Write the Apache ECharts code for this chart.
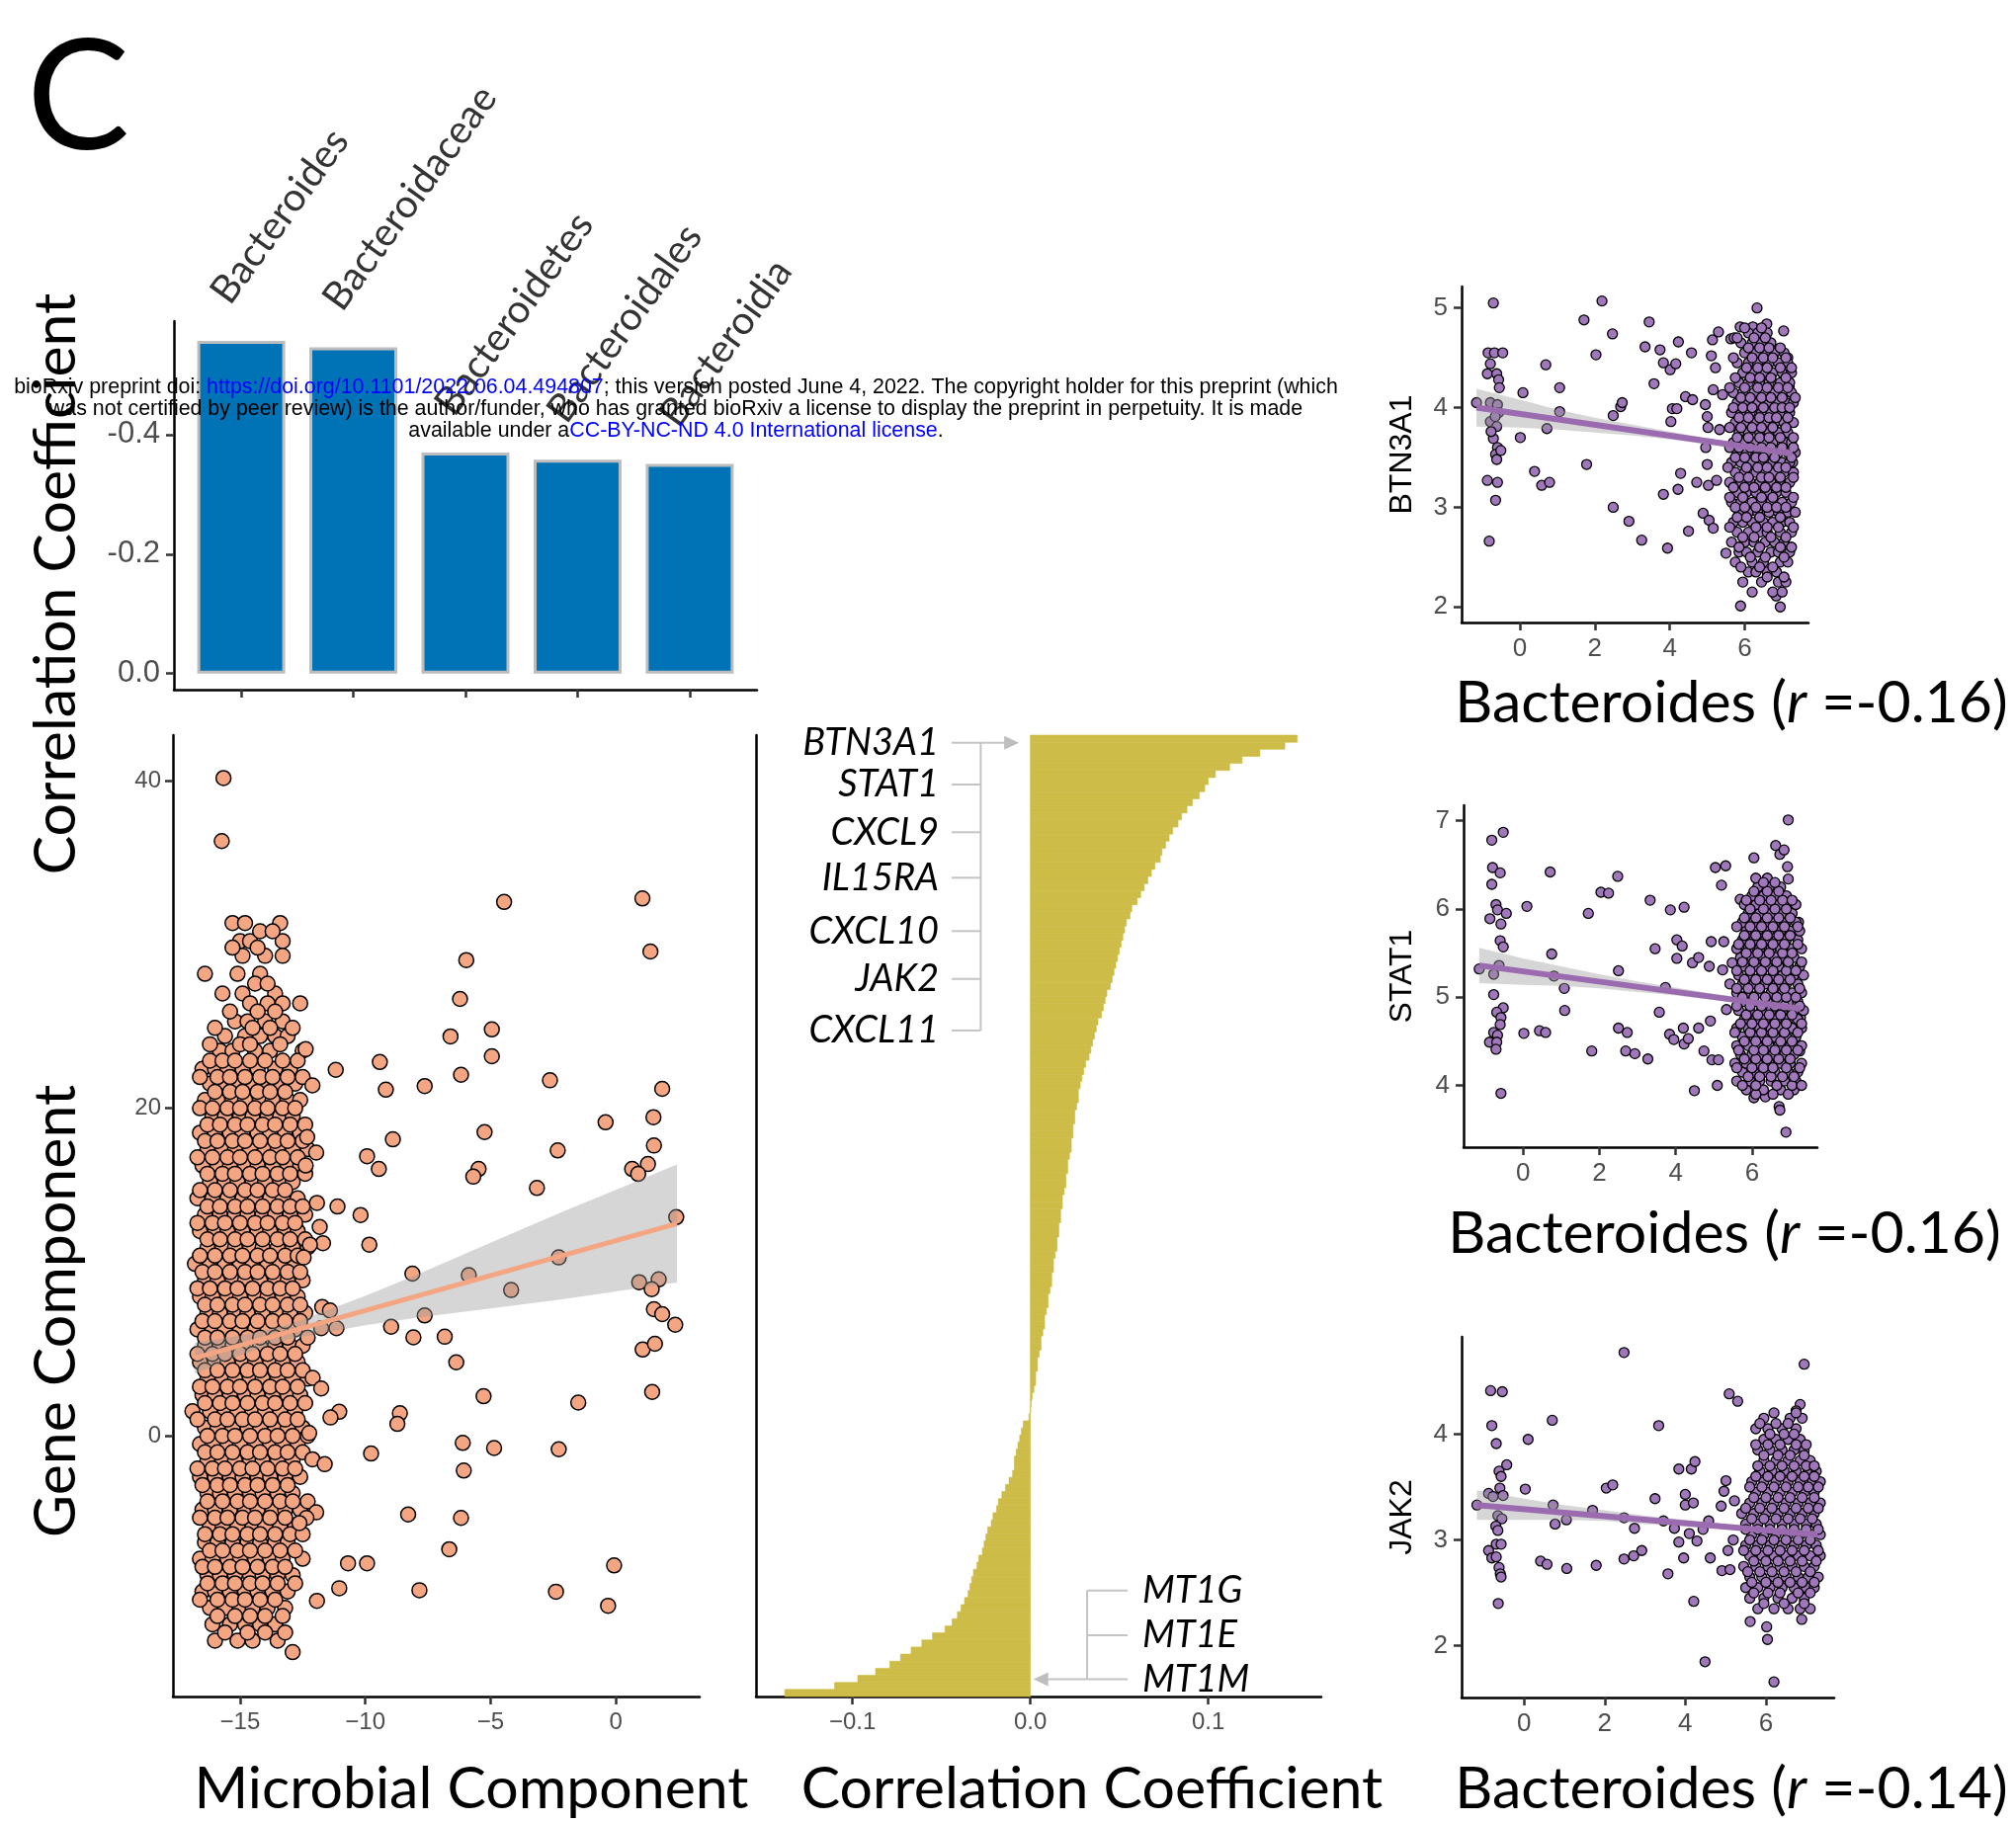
<!DOCTYPE html>
<html><head><meta charset="utf-8">
<script src="https://cdn.jsdelivr.net/npm/echarts@6/dist/echarts.min.js"></script>
<style>html,body{margin:0;padding:0;background:#fff}#chart{width:2040px;height:1845px}</style>
</head><body><div id="chart"></div>
<script>
// ---------------- data ----------------
// Top-left bar chart: correlation of each taxon with the gene component
const taxa = ['Bacteroides', 'Bacteroidaceae', 'Bacteroidetes', 'Bacteroidales', 'Bacteroidia'];
const taxaCorr = [-0.557, -0.546, -0.370, -0.358, -0.351];
const taxaTicks = [-0.4, -0.2, 0];

// Main scatter: microbial component (x) vs gene component (y)
// dense column of samples, written as rows: [y, x1, x2, ...]
const mainDenseRows = [
 [31.3,-15.3,-14.8,-13.4],[30.2,-15.0,-14.6,-13.3],[29.3,-14.9,-14.0,-13.3],[28.2,-16.4,-14.2,-15.1],
 [27.0,-15.7,-14.9,-13.6],[26.4,-14.6,-13.9,-13.3,-12.6],[25.3,-15.2,-14.7,-14.0,-13.3],
 [24.4,-15.6,-14.8,-14.2,-13.6,-13.1],[23.5,-15.8,-15.3,-14.4,-13.8,-12.5],
 [22.4,-16.5,-16.0,-15.5,-14.9,-14.3,-13.6,-13.0],[21.5,-16.2,-15.6,-15.1,-14.6,-14.0,-13.4,-12.8],
 [20.5,-16.4,-15.9,-15.3,-14.8,-14.2,-13.7,-13.1,-12.6],[19.5,-16.1,-15.6,-15.0,-14.5,-13.9,-13.4,-12.9],
 [18.5,-16.6,-16.0,-15.4,-14.9,-14.3,-13.8,-13.2,-12.6],[17.5,-16.3,-15.7,-15.2,-14.6,-14.0,-13.5,-12.9,-12.3],
 [16.5,-16.5,-15.9,-15.4,-14.8,-14.3,-13.7,-13.1,-12.6],[15.5,-16.2,-15.6,-15.1,-14.5,-14.0,-13.4,-12.9],
 [14.5,-16.7,-16.1,-15.5,-14.9,-14.4,-13.8,-13.3,-12.7],[13.5,-16.4,-15.8,-15.2,-14.7,-14.1,-13.6,-13.0,-12.4],
 [12.5,-16.6,-16.0,-15.5,-14.9,-14.3,-13.8,-13.2,-12.7],[11.5,-16.3,-15.7,-15.2,-14.6,-14.1,-13.5,-12.9,-12.3],
 [10.5,-16.8,-16.2,-15.6,-15.0,-14.5,-13.9,-13.4,-12.8],[9.5,-16.4,-15.9,-15.3,-14.8,-14.2,-13.6,-13.1,-12.5],
 [8.5,-16.6,-16.1,-15.5,-15.0,-14.4,-13.9,-13.3,-12.7],[7.5,-16.3,-15.8,-15.2,-14.7,-14.1,-13.5,-13.0,-12.4],
 [6.5,-16.7,-16.1,-15.6,-15.0,-14.4,-13.9,-13.3,-12.8],[5.5,-16.4,-15.8,-15.3,-14.7,-14.2,-13.6,-13.0,-12.5],
 [4.5,-16.6,-16.0,-15.5,-14.9,-14.4,-13.8,-13.3,-12.7],[3.5,-16.3,-15.7,-15.2,-14.6,-14.1,-13.5,-12.9,-12.3],
 [2.5,-16.5,-16.0,-15.4,-14.8,-14.3,-13.7,-13.1,-12.6],[1.5,-16.9,-16.2,-15.6,-15.1,-14.5,-14.0,-13.4,-12.8],
 [0.5,-16.4,-15.9,-15.3,-14.7,-14.2,-13.6,-13.1,-12.5],[-0.5,-16.6,-16.1,-15.5,-15.0,-14.4,-13.8,-13.3,-12.7],
 [-1.5,-16.3,-15.7,-15.2,-14.6,-14.1,-13.5,-12.9],[-2.5,-16.6,-16.0,-15.4,-14.9,-14.3,-13.8,-13.2,-12.6],
 [-3.5,-16.3,-15.8,-15.2,-14.6,-14.1,-13.5,-12.9],[-4.5,-16.5,-16.0,-15.4,-14.8,-14.3,-13.7,-13.2,-12.6],
 [-5.5,-16.2,-15.7,-15.1,-14.5,-14.0,-13.4,-12.8],[-6.5,-16.4,-15.9,-15.3,-14.7,-14.2,-13.6,-13.1],
 [-7.5,-16.6,-16.1,-15.5,-15.0,-14.4,-13.8,-13.3,-12.5],[-8.5,-16.3,-15.8,-15.2,-14.6,-14.1,-13.5,-12.9],
 [-9.5,-16.5,-16.0,-15.4,-14.8,-14.3,-13.7,-13.1],[-10.5,-16.2,-15.6,-15.0,-14.5,-13.9,-13.2],
 [-11.5,-16.1,-15.4,-14.8,-14.2,-13.6],[-12.5,-16.0,-15.1,-14.5,-13.5],[-13.2,-12.9]
];
const mainDenseRows2 = [
 [30.8,-14.2,-13.7],[29.8,-15.3,-14.3],[27.6,-14.4,-13.9],[25.9,-15.4,-14.3,-13.6],
 [24.9,-16.0,-14.5,-13.8,-12.9],[23.9,-16.2,-15.0,-14.6,-13.4],
 [22.9,-16.2,-15.7,-15.2,-14.6,-14.0,-13.3,-12.7],[21.9,-16.6,-15.9,-15.4,-14.8,-14.2,-13.7,-13.1,-12.5],
 [21.0,-16.0,-15.4,-14.9,-14.3,-13.8,-13.2],[20.0,-16.6,-16.1,-15.5,-15.0,-14.4,-13.9,-13.3,-12.8],
 [19.0,-16.3,-15.8,-15.2,-14.7,-14.1,-13.6,-13.0,-12.4],[18.0,-16.4,-15.9,-15.3,-14.8,-14.2,-13.6,-13.1,-12.5],
 [17.0,-16.7,-16.1,-15.5,-15.0,-14.4,-13.8,-13.3,-12.7],[16.0,-16.3,-15.7,-15.2,-14.6,-14.1,-13.5,-13.0,-12.4],
 [15.0,-16.6,-16.0,-15.4,-14.8,-14.3,-13.7,-13.2],[14.0,-16.3,-15.8,-15.2,-14.7,-14.1,-13.5,-13.0,-12.5],
 [13.0,-16.7,-16.1,-15.6,-15.0,-14.4,-13.9,-13.3,-12.8],[12.0,-16.3,-15.8,-15.2,-14.7,-14.1,-13.5,-13.0,-12.4],
 [11.0,-16.6,-16.0,-15.4,-14.9,-14.3,-13.8,-13.2,-12.7],[10.0,-16.5,-16.0,-15.4,-14.8,-14.3,-13.7,-13.1,-12.6],
 [9.0,-16.7,-16.2,-15.6,-15.1,-14.5,-13.9,-13.4,-12.9],[8.0,-16.4,-15.9,-15.3,-14.8,-14.2,-13.7,-13.1,-12.6],
 [7.0,-16.5,-16.0,-15.4,-14.9,-14.3,-13.7,-13.2,-12.6],[6.0,-16.4,-15.9,-15.3,-14.7,-14.2,-13.6,-13.1,-12.3],
 [5.0,-16.7,-16.1,-15.6,-15.0,-14.5,-13.9,-13.4,-12.8],[4.0,-16.4,-15.9,-15.3,-14.7,-14.2,-13.6,-13.1,-12.5],
 [3.0,-16.6,-16.1,-15.5,-15.0,-14.4,-13.8,-13.3,-12.7],[2.0,-16.4,-15.8,-15.3,-14.7,-14.1,-13.6,-13.0,-12.4],
 [1.0,-16.7,-16.0,-15.5,-14.9,-14.4,-13.8,-13.2,-12.7],[0.0,-16.3,-15.7,-15.2,-14.6,-14.0,-13.5,-12.9,-12.3],
 [-1.0,-16.4,-15.9,-15.3,-14.7,-14.2,-13.6,-13.1,-12.5],[-2.0,-16.7,-16.1,-15.6,-15.0,-14.5,-13.9,-13.3,-12.8],
 [-3.0,-16.5,-15.9,-15.4,-14.8,-14.3,-13.7,-13.1],[-4.0,-16.3,-15.7,-15.1,-14.6,-14.0,-13.4,-12.9,-12.3],
 [-5.0,-16.6,-16.0,-15.5,-14.9,-14.4,-13.8,-13.2],[-6.0,-16.4,-15.8,-15.3,-14.7,-14.2,-13.6,-13.0,-12.5],
 [-7.0,-16.2,-15.7,-15.1,-14.6,-14.0,-13.4,-12.8],[-8.0,-16.5,-16.0,-15.4,-14.9,-14.3,-13.7,-13.2],
 [-9.0,-16.3,-15.7,-15.2,-14.6,-14.1,-13.5,-12.8],[-10.0,-16.6,-15.9,-15.3,-14.8,-14.2,-13.6],
 [-11.0,-15.9,-15.2,-14.6,-14.0,-13.3],[-12.0,-15.6,-14.7,-14.0,-13.2]
];
const mainSparsePts = [
 [-15.66,40.15],[-15.73,36.3],
 [-4.46,32.59],[1.06,32.8],[1.38,29.56],[-5.97,29.04],[-6.22,26.67],[-6.6,24.38],[-4.95,24.81],[-4.95,23.17],
 [-6.18,22.04],[-2.63,21.7],[1.85,21.18],[-9.42,22.82],[-9.18,21.13],[-7.63,21.35],[-11.18,22.34],[-0.41,19.14],
 [1.5,19.45],[1.52,17.72],[-5.24,18.54],[-2.32,17.42],[-8.9,18.1],[-9.93,17.07],[-9.46,16.29],[-5.48,16.29],
 [-5.69,15.82],[1.28,16.59],[0.65,16.29],[0.89,15.99],[-3.15,15.13],[-11.11,14.0],[-10.19,13.48],[-9.84,11.67],
 [2.41,13.35],[-2.28,10.89],[-8.12,9.9],[-5.87,9.81],[-4.18,8.9],[0.93,9.38],[1.71,9.55],[1.43,8.95],[1.52,7.73],
 [1.85,7.43],[2.37,6.78],[-7.63,7.35],[-8.97,6.66],[-8.08,6.01],[-6.83,6.05],[-6.37,4.49],[1.07,5.27],[1.56,5.62],
 [1.45,2.68],[-5.28,2.42],[-1.5,2.03],[-8.62,1.38],[-8.72,0.73],[-11.04,1.47],[-11.39,1.12],[-9.77,-1.08],
 [-6.11,-0.43],[-4.86,-0.74],[-6.07,-2.12],[-2.28,-0.82],[-8.29,-4.8],[-6.18,-5.01],[-6.65,-6.92],[-10.69,-7.78],
 [-9.93,-7.78],[-0.07,-7.91],[-11.04,-9.3],[-7.84,-9.42],[-2.39,-9.51],[-0.31,-10.37],[-11.93,-10.07],
 [-12.11,21.39],[-12.38,23.6],[-12.32,18.24],[-11.96,17.29],[-12.38,16.5],[-11.93,14.22],[-11.82,12.75],
 [-11.69,11.76],[-12.21,11.67],[-12.46,10.89],[-11.72,7.86],[-11.76,6.57],[-11.41,7.65],[-11.15,6.57],
 [-12.1,3.54],[-11.76,2.89],[-12.24,0.17],[-12.11,-1.43],[-11.62,-1.73],[-11.96,-4.67],[-12.35,-5.01],[-12.63,-5.32]
];
const mainFit = [[-16.8, 4.75], [2.44, 12.96]];
const mainBand = [[-16.8,3.80,5.70],[-15,4.92,6.12],[-13,5.92,6.82],[-10,6.75,8.55],[-8,7.2,9.8],
 [-5,7.78,11.78],[-2,8.36,13.76],[0,8.82,15.02],[2.44,9.36,16.56]];
const mainXTicks = [-15, -10, -5, 0];
const mainYTicks = [0, 20, 40];

// Gene correlation with the microbial component, sorted ascending (bottom to top)
const geneCorr = [
 -0.138,-0.110,-0.097,-0.087,-0.079,-0.073,-0.067,-0.061,-0.055,-0.048,
 -0.044,-0.041,-0.039,-0.037,-0.035,-0.034,-0.033,-0.032,-0.030,-0.029,
 -0.027,-0.026,-0.025,-0.024,-0.022,-0.021,-0.019,-0.018,-0.016,-0.014,
 -0.012,-0.010,-0.009,-0.009,-0.008,-0.007,-0.006,-0.005,-0.004,-0.0008,
 0.0002,0.0005,0.001,0.002,0.003,0.003,0.004,0.004,0.005,0.006,
 0.006,0.007,0.008,0.008,0.009,0.010,0.010,0.011,0.012,0.012,
 0.013,0.013,0.014,0.015,0.015,0.016,0.016,0.017,0.017,0.018,
 0.018,0.019,0.020,0.020,0.021,0.021,0.022,0.023,0.023,0.024,
 0.024,0.025,0.025,0.026,0.027,0.027,0.028,0.029,0.030,0.031,
 0.033,0.034,0.035,0.036,0.037,0.038,0.040,0.041,0.042,0.043,
 0.045,0.046,0.047,0.048,0.049,0.050,0.051,0.052,0.053,0.054,
 0.056,0.057,0.060,0.062,0.064,0.066,0.068,0.070,0.073,0.074,
 0.076,0.078,0.080,0.083,0.085,0.088,0.091,0.095,0.098,0.100,
 0.104,0.112,0.119,0.129,0.143,0.150
];
const geneTicks = [-0.1, 0, 0.1];
const topGenes = ['BTN3A1', 'STAT1', 'CXCL9', 'IL15RA', 'CXCL10', 'JAK2', 'CXCL11'];
const bottomGenes = ['MT1G', 'MT1E', 'MT1M'];

// Small scatter panels: Bacteroides abundance (x) vs gene expression (y)
const btn3a1Pts = [
 [-1.16,4.05],[-0.71,5.05],[-0.85,4.55],[-0.68,4.55],[-0.46,4.55],[-0.79,4.44],[-0.87,4.34],[-0.62,4.34],[-0.57,4.28],
 [-0.55,4.2],[-0.79,4.05],[-0.6,4.03],[-0.57,3.95],[-0.79,3.86],[-0.62,3.81],[-0.71,3.69],[-0.6,3.6],[-0.65,3.53],
 [-0.62,3.48],[-0.87,3.27],[-0.6,3.25],[-0.65,3.07],[-0.82,2.66],[-0.66,3.91],[-0.77,3.76],[-0.51,3.57],
 [0.01,3.7],[0.08,4.15],[0.69,4.43],[0.72,3.79],[0.39,3.36],[0.58,3.22],[0.79,3.25],[1.06,4.2],[1.06,3.96],[1.71,4.88],
 [2.03,4.53],[2.19,5.07],[2.47,4.74],[1.78,3.43],[2.49,3.92],[2.69,4.01],[2.73,4.05],[2.49,3.0],[2.91,2.86],[3.25,2.67],
 [3.34,4.61],[3.45,4.86],[3.58,4.24],[3.74,4.58],[3.83,4.45],[3.83,3.13],[3.94,2.59],[4.01,4.38],[4.03,3.86],[4.07,3.99],
 [4.19,3.99],[4.16,4.44],[4.22,3.18],[4.23,4.66],[4.29,3.34],[4.42,4.11],[4.5,2.76],[4.58,4.55],[4.61,4.08],[4.72,3.25],
 [4.89,2.94],[4.95,4.03],[5.0,3.91],[5.02,3.8],[4.96,3.6],[5.0,3.43],[5.03,3.22],[5.05,2.87],[5.16,2.79],[5.11,4.52],
 [5.14,4.68],[5.22,4.4],[5.3,4.76],[5.16,4.18],[5.33,3.78],[5.25,3.27],[5.41,4.13],[5.5,2.54],[5.63,4.69],[5.72,4.7],
 [5.88,4.81],[5.89,2.01],[6.22,4.81],[6.33,5.0],[6.59,4.84],[7.04,4.77],[6.95,2.0],[6.84,2.11],[7.19,2.97],[7.28,3.45],
 [7.15,4.5],[7.19,4.21]
];
const btn3a1Rows = [
 [2.15,6.2,6.75,7.0],[2.25,5.95,6.45,6.9,7.1],[2.35,6.1,6.3,6.6,6.85],[2.45,5.75,6.2,6.5,6.95,7.15],
 [2.55,5.85,6.05,6.35,6.7,6.9,7.2],[2.65,5.65,6.0,6.25,6.55,6.8,7.05],[2.75,5.8,6.1,6.4,6.6,6.95,7.25],
 [2.85,5.7,5.95,6.2,6.5,6.75,7.0,7.2],[2.95,5.85,6.1,6.35,6.65,6.9,7.15,7.35],[3.05,5.65,5.9,6.2,6.45,6.7,7.0,7.25],
 [3.15,5.8,6.05,6.3,6.6,6.85,7.1],[3.25,5.6,5.9,6.15,6.4,6.7,6.95,7.2],[3.35,5.75,6.0,6.3,6.55,6.8,7.05,7.3],
 [3.45,5.65,5.9,6.2,6.45,6.75,7.0,7.2],[3.55,5.8,6.05,6.35,6.6,6.9,7.15,7.35],[3.65,5.7,5.95,6.25,6.5,6.75,7.05,7.25],
 [3.75,5.85,6.1,6.4,6.65,6.9,7.15],[3.85,5.75,6.0,6.3,6.55,6.8,7.05,7.3],[3.95,5.65,5.9,6.15,6.45,6.7,6.95,7.2],
 [4.05,5.8,6.05,6.35,6.6,6.85,7.1,7.3],[4.15,5.7,5.95,6.25,6.5,6.8,7.05,7.25],[4.25,5.85,6.1,6.4,6.65,6.95,7.2],
 [4.35,5.95,6.2,6.5,6.75,7.0,7.25],[4.45,5.8,6.1,6.35,6.65,6.9,7.15],[4.55,6.0,6.3,6.55,6.8,7.05],
 [4.65,5.9,6.2,6.45,6.7],[4.75,6.1,6.35,6.6],
 [2.3,6.6,7.05],[2.4,5.9,6.4,6.75],[2.5,6.15,6.55,7.05],[2.6,5.85,6.4,6.95,7.25],[2.7,5.95,6.25,6.7,7.1],
 [2.8,5.6,6.3,6.6,6.9,7.3],[2.9,5.8,6.05,6.4,6.95],[3.0,5.75,6.0,6.3,6.6,6.85,7.1],[3.1,5.6,5.95,6.45,6.75,7.3],
 [3.2,5.7,6.0,6.25,6.55,6.85,7.1],[3.3,5.85,6.1,6.45,6.65,6.95,7.3],[3.4,5.55,6.05,6.35,6.6,6.9,7.1],
 [3.5,5.75,6.0,6.3,6.5,6.8,7.25],[3.6,5.6,5.85,6.15,6.45,6.7,7.0,7.3],[3.7,5.8,6.1,6.4,6.65,6.95,7.3],
 [3.8,5.6,5.9,6.2,6.45,6.75,7.1],[3.9,5.85,6.1,6.4,6.65,6.85,7.15],[4.0,5.7,5.95,6.2,6.5,6.8,7.0,7.2],
 [4.1,5.9,6.15,6.45,6.7,7.0,7.35],[4.2,5.6,6.0,6.35,6.6,6.9,7.15],[4.3,5.75,6.15,6.4,6.7,7.1],
 [4.4,6.05,6.35,6.6,6.95,7.25],[4.5,5.7,6.2,6.5,6.75,7.1],[4.6,6.1,6.4,6.65,6.95],[4.7,5.8,6.25,6.55],[4.8,6.0,6.45]
];
const btn3a1Fit = [[-1.16,4.00],[7.28,3.54]];
const btn3a1Band = [[-1.16,3.81,4.19],[0,3.80,4.08],[1,3.78,3.98],[2,3.75,3.90],[3,3.72,3.83],[4,3.68,3.76],
 [5,3.63,3.69],[6,3.58,3.64],[7.28,3.50,3.58]];

const stat1Pts = [
 [-1.15,5.32],[-0.82,6.78],[-0.52,6.87],[-0.8,6.47],[-0.6,6.41],[-0.82,6.28],[-0.71,6.05],[-0.87,5.89],[-0.67,5.99],
 [-0.44,5.95],[-0.58,5.83],[-0.6,5.64],[-0.52,5.57],[-0.63,5.36],[-0.77,5.26],[-0.77,5.03],[-0.52,4.88],[-0.69,4.83],
 [-0.58,4.77],[-0.6,4.69],[-0.77,4.6],[-0.67,4.57],[-0.88,4.49],[-0.69,4.49],[-0.71,4.41],[-0.58,3.91],
 [0.02,4.59],[0.1,6.03],[0.71,6.42],[0.75,5.49],[0.81,5.24],[0.43,4.62],[0.59,4.6],[1.08,5.1],[1.09,4.85],[1.71,5.95],
 [1.8,4.39],[2.04,6.19],[2.24,6.18],[2.48,6.37],[2.5,5.3],[2.5,4.65],[2.73,4.6],[2.69,4.39],[2.93,4.36],[3.27,4.3],
 [3.33,6.1],[3.46,5.55],[3.57,4.83],[3.73,5.11],[3.86,5.99],[3.84,4.58],[3.95,4.52],[4.03,5.65],[4.03,5.44],[4.17,5.58],
 [4.22,6.02],[4.2,4.65],[4.22,4.47],[4.33,4.53],[4.49,3.94],[4.44,5.39],[4.6,5.45],[4.6,4.65],[4.74,4.39],[4.88,5.35],
 [4.91,4.73],[4.95,4.29],[4.93,5.63],[5.04,6.47],[5.09,4.0],[5.12,4.29],[5.2,6.27],[5.31,6.49],[5.26,5.63],[5.23,5.31],
 [5.33,4.86],[5.42,5.15],[5.48,5.39],[5.69,6.11],[6.05,6.58],[6.62,6.72],[6.73,6.62],[6.84,6.67],[6.95,7.01],[6.93,6.48],
 [6.95,6.34],[6.89,3.47],[6.71,3.76],[6.73,3.72],[6.35,3.87],[6.05,3.86],[7.25,4.39],[7.27,4.77],[7.22,5.85]
];
const stat1Rows = [
 [3.95,5.85,6.3,6.75,7.1],[4.05,5.6,5.95,6.2,6.5,6.85,7.15],[4.15,5.75,6.05,6.35,6.6,6.95,7.2],
 [4.25,5.55,5.85,6.15,6.45,6.75,7.0,7.3],[4.35,5.7,6.0,6.25,6.55,6.85,7.1],[4.45,5.6,5.9,6.15,6.45,6.7,7.0,7.3],
 [4.55,5.75,6.05,6.3,6.6,6.9,7.15],[4.65,5.6,5.9,6.2,6.5,6.75,7.05,7.3],[4.75,5.8,6.1,6.35,6.65,6.95,7.2],
 [4.85,5.65,5.95,6.25,6.5,6.8,7.1,7.35],[4.95,5.8,6.05,6.4,6.7,6.95,7.2],[5.05,5.6,5.9,6.2,6.5,6.8,7.05,7.3],
 [5.15,5.75,6.05,6.35,6.65,6.9,7.2],[5.25,5.65,5.95,6.25,6.55,6.8,7.1,7.35],[5.35,5.8,6.1,6.4,6.7,6.95,7.25],
 [5.45,5.7,6.0,6.3,6.6,6.85,7.1],[5.55,5.6,5.9,6.2,6.5,6.75,7.05,7.3],[5.65,5.75,6.05,6.35,6.65,6.9,7.2],
 [5.75,5.85,6.15,6.45,6.75,7.0,7.25],[5.85,5.75,6.05,6.35,6.6,6.9,7.15],[5.95,5.9,6.2,6.5,6.8,7.05],
 [6.05,5.8,6.1,6.4,6.7,6.95,7.15],[6.15,6.0,6.3,6.6,6.9],[6.25,6.15,6.45,6.75],[6.35,6.1,6.4],
 [3.9,6.1,6.55,6.95],[4.0,5.75,6.1,6.65,7.05,7.3],[4.1,5.9,6.2,6.5,6.8,7.1],[4.2,5.6,6.0,6.3,6.55,6.9,7.25],
 [4.3,5.8,6.1,6.4,6.7,7.0],[4.4,5.65,6.05,6.3,6.6,6.9,7.2],[4.5,5.8,6.1,6.4,6.75,7.05],
 [4.6,5.55,5.95,6.25,6.55,6.85,7.2],[4.7,5.7,6.0,6.3,6.6,6.9,7.3],[4.8,5.85,6.15,6.45,6.75,7.05],
 [4.9,5.6,5.95,6.25,6.6,6.85,7.25],[5.0,5.75,6.05,6.35,6.65,6.9,7.15],[5.1,5.6,5.9,6.2,6.55,6.85,7.25],
 [5.2,5.8,6.1,6.4,6.7,7.0],[5.3,5.6,5.95,6.25,6.55,6.9,7.15],[5.4,5.75,6.05,6.35,6.65,6.95,7.3],
 [5.5,5.85,6.15,6.45,6.8,7.05],[5.6,5.65,5.95,6.25,6.55,6.85,7.2],[5.7,5.8,6.1,6.4,6.7,7.0],
 [5.8,5.6,5.95,6.25,6.55,6.85,7.2],[5.9,5.8,6.1,6.4,6.7,7.0],[6.0,5.95,6.3,6.6,6.9],[6.1,5.85,6.2,6.5,6.8,7.05],
 [6.2,6.05,6.4,6.7],[6.3,6.3,6.6]
];
const stat1Fit = [[-1.15,5.36],[7.27,4.87]];
const stat1Band = [[-1.15,5.16,5.56],[0,5.14,5.44],[1,5.13,5.35],[2,5.10,5.26],[3,5.06,5.18],[4,5.02,5.11],
 [5,4.97,5.04],[6,4.91,4.98],[7.27,4.83,4.92]];

const jak2Pts = [
 [-1.17,3.33],[-0.83,4.41],[-0.54,4.4],[-0.8,4.08],[-0.69,3.91],[-0.43,3.71],[-0.62,3.65],[-0.57,3.6],[-0.6,3.49],
 [-0.88,3.44],[-0.77,3.41],[-0.52,3.42],[-0.65,3.23],[-0.55,3.2],[-0.7,3.13],[-0.65,3.09],[-0.69,2.96],[-0.57,2.96],
 [-0.88,2.9],[-0.8,2.83],[-0.69,2.84],[-0.62,2.74],[-0.59,2.68],[-0.57,2.65],[-0.64,2.4],
 [0.03,3.48],[0.1,3.95],[0.41,2.8],[0.57,2.77],[0.7,4.13],[0.72,3.33],[0.77,3.15],[1.05,3.19],[1.06,2.73],[1.7,3.28],
 [1.79,2.76],[2.04,3.49],[2.2,3.52],[2.48,4.77],[2.48,3.21],[2.48,2.82],[2.72,2.85],[2.74,3.11],[2.92,2.9],[3.25,3.39],
 [3.34,4.08],[3.46,3.18],[3.57,2.68],[3.73,3.11],[3.84,3.67],[3.84,2.98],[3.96,2.83],[4.0,3.43],[4.0,3.33],[4.15,3.67],
 [4.24,3.74],[4.2,3.35],[4.1,3.06],[4.29,2.99],[4.21,2.42],[4.44,3.1],[4.49,1.85],[4.58,3.18],[4.62,2.83],[4.89,3.32],
 [4.91,2.71],[5.01,3.56],[4.96,3.46],[5.09,4.38],[5.3,4.31],[5.06,2.9],[5.11,2.72],[5.19,3.0],[5.22,3.37],[5.61,2.23],
 [6.02,2.18],[6.04,2.06],[6.2,1.66],[6.89,2.25],[6.95,4.66],[6.85,4.28],[6.75,4.22],[6.92,3.89]
];
const jak2Rows = [
 [2.35,5.8,6.2,6.55,6.85,7.1],[2.45,5.6,5.95,6.3,6.65,6.95],[2.55,5.5,5.8,6.1,6.4,6.7,7.0,7.2],
 [2.65,5.6,5.9,6.2,6.5,6.8,7.05,7.3],[2.75,5.45,5.75,6.05,6.35,6.65,6.95,7.2],[2.85,5.6,5.9,6.2,6.5,6.8,7.1,7.35],
 [2.95,5.5,5.8,6.1,6.4,6.7,7.0,7.25],[3.05,5.65,5.95,6.25,6.55,6.85,7.15,7.35],[3.15,5.5,5.8,6.1,6.4,6.7,7.0,7.25],
 [3.25,5.4,5.7,6.0,6.3,6.6,6.9,7.2],[3.35,5.6,5.9,6.2,6.5,6.8,7.1,7.35],[3.45,5.75,6.05,6.35,6.65,6.95,7.2],
 [3.55,5.65,5.95,6.25,6.55,6.85,7.15,7.35],[3.65,5.85,6.15,6.45,6.75,7.05,7.25],[3.75,5.95,6.25,6.55,6.85,7.1],
 [3.85,5.8,6.1,6.4,6.7,6.95],[3.95,5.95,6.25,6.55,6.85],[4.05,5.75,6.05,6.4,6.75],[4.15,5.95,6.6,6.9],
 [2.4,5.95,6.45,6.95],[2.5,5.7,6.05,6.35,6.8,7.1],[2.6,5.65,6.0,6.3,6.6,6.9,7.2],[2.7,5.55,5.85,6.15,6.45,6.75,7.1],
 [2.8,5.7,6.0,6.3,6.6,6.9,7.25],[2.9,5.45,5.75,6.05,6.35,6.65,6.95,7.3],[3.0,5.6,5.9,6.2,6.5,6.8,7.1],
 [3.1,5.5,5.8,6.1,6.4,6.7,7.0,7.3],[3.2,5.65,5.95,6.25,6.55,6.85,7.15],[3.3,5.5,5.85,6.15,6.45,6.75,7.05,7.3],
 [3.4,5.7,6.0,6.3,6.6,6.9,7.2],[3.5,5.6,5.9,6.2,6.5,6.8,7.05,7.3],[3.6,5.75,6.05,6.35,6.65,6.95,7.2],
 [3.7,5.8,6.1,6.4,6.7,7.0,7.2],[3.8,5.95,6.3,6.6,6.95],[3.9,5.75,6.05,6.35,6.75,7.0],[4.0,6.1,6.45,6.7],
 [4.1,5.85,6.25,6.55],[4.2,6.2,6.75]
];
const jak2Fit = [[-1.17,3.33],[7.28,3.05]];
const jak2Band = [[-1.17,3.19,3.47],[0,3.19,3.39],[1,3.19,3.33],[2,3.18,3.28],[3,3.15,3.23],[4,3.13,3.19],
 [5,3.10,3.15],[6,3.07,3.12],[7.28,3.02,3.09]];

const panelGenes = ['BTN3A1', 'STAT1', 'JAK2'];
const panelR = ['-0.16', '-0.16', '-0.14'];
const smallXTicks = [0, 2, 4, 6];

// ---------------- helpers ----------------
const rowsToPts = rows => rows.flatMap(r => r.slice(1).map(x => [x, r[0]]));
const LATO = 'Lato, "Open Sans", sans-serif';
const ARIAL = '"Liberation Sans", Arial, sans-serif';
const GREY_TXT = '#4D4D4D';
const TITLE_FONT = '59px ' + LATO;

function valueAxis(gridIndex, min, max, ticks, labelSize, labelMargin, fmt, extra) {
  return Object.assign({
    type: 'value', gridIndex, min, max,
    axisLine: { show: true, onZero: false, lineStyle: { color: '#000', width: 2.5 } },
    axisTick: { show: true, length: 8, customValues: ticks, lineStyle: { color: '#333', width: 2.5 } },
    axisLabel: { show: true, customValues: ticks, fontFamily: ARIAL, fontSize: labelSize, color: GREY_TXT,
      margin: labelMargin, formatter: fmt || (v => String(v)) },
    splitLine: { show: false }
  }, extra || {});
}
const minusFmt = v => (v < 0 ? '\u2212' : '') + Math.abs(v);
const geneFmt = v => v === 0 ? '0.0' : (v < 0 ? '\u2212' : '') + Math.abs(v).toFixed(1);

function dots(idx, pts, size, fill, bw) {
  return { type: 'scatter', xAxisIndex: idx, yAxisIndex: idx, data: pts, symbolSize: size, z: 2,
    itemStyle: { color: fill, borderColor: '#000', borderWidth: bw, opacity: 1 }, emphasis: { disabled: true } };
}
function band(idx, b) {
  return { type: 'custom', xAxisIndex: idx, yAxisIndex: idx, data: [[b[0][0], b[0][1]]], z: 3, silent: true,
    renderItem: (params, api) => {
      const up = b.map(p => api.coord([p[0], p[2]]));
      const lo = b.slice().reverse().map(p => api.coord([p[0], p[1]]));
      return { type: 'polygon', shape: { points: up.concat(lo) }, style: { fill: 'rgba(153,153,153,0.4)' } };
    } };
}
function fitLine(idx, pts, color, w) {
  return { type: 'line', xAxisIndex: idx, yAxisIndex: idx, data: pts, symbol: 'none', z: 4, silent: true,
    lineStyle: { color, width: w }, emphasis: { disabled: true } };
}
function yName(text, gap) {
  return { name: text, nameLocation: 'middle', nameRotate: 90, nameGap: gap,
    nameTextStyle: { fontFamily: ARIAL, fontSize: 32, color: '#000' } };
}

// ---------------- gene annotation layout (data units of the gene panel) ----------------
const noteLayout = {
  topText: -0.0514, topLineStart: -0.0442, topBracket: -0.0279, topArrowTip: -0.0064,
  topRows: [135.42, 129.51, 122.76, 116.33, 108.78, 102.01, 94.72],
  botText: 0.0630, botLineEnd: 0.0547, botBracket: 0.0319, botArrowTip: 0.0017,
  botRows: [15.49, 9.17, 2.96]
};

const N = geneCorr.length;
const PURPLE = '#9F77BA';

const option = {
  animation: false,
  backgroundColor: '#fff',
  grid: [
    { left: 176, top: 325, width: 590, height: 373 },
    { left: 175, top: 744, width: 533, height: 973 },
    { left: 765, top: 744, width: 572, height: 973 },
    { left: 1479, top: 290, width: 351, height: 340 },
    { left: 1481, top: 815, width: 358, height: 346 },
    { left: 1479, top: 1353, width: 377, height: 365 }
  ],
  xAxis: [
    valueAxis(0, 0.4, 5.6, [1, 2, 3, 4, 5], 30, 12, null, { axisLabel: { show: false } }),
    valueAxis(1, -17.678, 3.345, mainXTicks, 24, 14, minusFmt),
    valueAxis(2, -0.1542, 0.1635, geneTicks, 24, 14, geneFmt),
    valueAxis(3, -1.558, 7.703, smallXTicks, 26, 14),
    valueAxis(4, -1.56, 7.713, smallXTicks, 26, 14),
    valueAxis(5, -1.55, 7.694, smallXTicks, 26, 14)
  ],
  yAxis: [
    valueAxis(0, -0.59, 0.027, taxaTicks, 31, 14, v => v.toFixed(1), { inverse: true }),
    valueAxis(1, -15.91, 42.77, mainYTicks, 24, 12, minusFmt),
    valueAxis(2, 0.5, N + 0.5, [], 20, 8, null, { axisTick: { show: false }, axisLabel: { show: false } }),
    valueAxis(3, 1.844, 5.215, [2, 3, 4, 5], 26, 14, null, yName(panelGenes[0], 44)),
    valueAxis(4, 3.30, 7.176, [4, 5, 6, 7], 26, 14, null, yName(panelGenes[1], 46)),
    valueAxis(5, 1.512, 4.918, [2, 3, 4], 26, 14, null, yName(panelGenes[2], 44))
  ],
  series: [
    // taxa bars
    { type: 'bar', xAxisIndex: 0, yAxisIndex: 0, barWidth: 89, z: 2,
      data: taxaCorr.map((v, i) => [i + 1, v]),
      itemStyle: { color: '#0073B6', borderColor: '#BDBDBD', borderWidth: 3 }, emphasis: { disabled: true } },
    // taxa names above bars
    { type: 'scatter', xAxisIndex: 0, yAxisIndex: 0, symbolSize: 1, z: 5, silent: true,
      itemStyle: { color: 'rgba(0,0,0,0)' },
      data: taxa.map((t, i) => ({ name: t, value: [i + 1, taxaCorr[i]] })),
      label: { show: true, formatter: p => p.name, position: [-5, -30], rotate: 54, align: 'left',
        verticalAlign: 'bottom', fontFamily: LATO, fontSize: 40, color: '#000' } },

    // main scatter
    dots(1, rowsToPts(mainDenseRows).concat(rowsToPts(mainDenseRows2), mainSparsePts), 15, '#F4A582', 1.5),
    band(1, mainBand),
    fitLine(1, mainFit, '#F4A582', 5),

    // gene correlation bars
    { type: 'custom', xAxisIndex: 2, yAxisIndex: 2, z: 2, silent: true,
      data: geneCorr.map((v, i) => [i + 1, v]),
      encode: { x: 1, y: 0 },
      renderItem: (params, api) => {
        const r = api.value(0), v = api.value(1);
        const a = api.coord([0, r + 0.5]), b = api.coord([v, r - 0.5]);
        return { type: 'rect', shape: { x: Math.min(a[0], b[0]), y: a[1], width: Math.abs(b[0] - a[0]), height: b[1] - a[1] },
          style: { fill: '#CDBC47', stroke: '#CDBC47', lineWidth: 0.6 } };
      } },
    // gene labels with leader lines
    { type: 'custom', xAxisIndex: 2, yAxisIndex: 2, z: 6, silent: true, data: [[0, 1]],
      renderItem: (params, api) => {
        const L = noteLayout, ch = [];
        const LINE = '#C4C4C4';
        const seg = (x1, y1, x2, y2) => {
          const a = api.coord([x1, y1]), b = api.coord([x2, y2]);
          ch.push({ type: 'line', shape: { x1: a[0], y1: a[1], x2: b[0], y2: b[1] }, style: { stroke: LINE, lineWidth: 2 } });
        };
        const head = (x, y, dir) => {
          const t = api.coord([x, y]);
          ch.push({ type: 'polygon', shape: { points: [t, [t[0] - dir * 15, t[1] - 7], [t[0] - dir * 15, t[1] + 7]] },
            style: { fill: '#BEBEBE' } });
        };
        const label = (txt, x, y, align) => {
          const p = api.coord([x, y]);
          ch.push({ type: 'text', x: p[0], y: p[1], style: { text: txt, font: 'italic 38px ' + LATO, fill: '#000',
            align, verticalAlign: 'middle' } });
        };
        topGenes.forEach((g, i) => { seg(L.topLineStart, L.topRows[i], L.topBracket, L.topRows[i]); label(g, L.topText, L.topRows[i], 'right'); });
        seg(L.topBracket, L.topRows[0], L.topBracket, L.topRows[L.topRows.length - 1]);
        seg(L.topBracket, L.topRows[0], L.topArrowTip - 0.008, L.topRows[0]);
        head(L.topArrowTip, L.topRows[0], 1);
        bottomGenes.forEach((g, i) => { seg(L.botBracket, L.botRows[i], L.botLineEnd, L.botRows[i]); label(g, L.botText, L.botRows[i], 'left'); });
        seg(L.botBracket, L.botRows[0], L.botBracket, L.botRows[L.botRows.length - 1]);
        const last = L.botRows[L.botRows.length - 1];
        seg(L.botBracket, last, L.botArrowTip + 0.008, last);
        head(L.botArrowTip, last, -1);
        return { type: 'group', children: ch };
      } },

    // small panels
    dots(3, btn3a1Pts.concat(rowsToPts(btn3a1Rows)), 10, PURPLE, 1.3),
    band(3, btn3a1Band),
    fitLine(3, btn3a1Fit, '#9B6BB0', 6),
    dots(4, stat1Pts.concat(rowsToPts(stat1Rows)), 10, PURPLE, 1.3),
    band(4, stat1Band),
    fitLine(4, stat1Fit, '#9B6BB0', 6),
    dots(5, jak2Pts.concat(rowsToPts(jak2Rows)), 10, PURPLE, 1.3),
    band(5, jak2Band),
    fitLine(5, jak2Fit, '#9B6BB0', 6)
  ],
  graphic: [
    { type: 'text', x: 27, y: 101, z: 100, style: { text: 'C', font: '156px ' + LATO, fill: '#000', align: 'left', verticalAlign: 'middle' } },
    { type: 'text', x: 57, y: 591, rotation: Math.PI / 2, z: 100, style: { text: 'Correlation Coefficient', font: TITLE_FONT, fill: '#000', align: 'center', verticalAlign: 'middle' } },
    { type: 'text', x: 57, y: 1327, rotation: Math.PI / 2, z: 100, style: { text: 'Gene Component', font: TITLE_FONT, fill: '#000', align: 'center', verticalAlign: 'middle' } },
    { type: 'text', x: 477, y: 1811, z: 100, style: { text: 'Microbial Component', font: TITLE_FONT, fill: '#000', align: 'center', verticalAlign: 'middle' } },
    { type: 'text', x: 1105, y: 1811, z: 100, style: { text: 'Correlation Coefficient', font: TITLE_FONT, fill: '#000', align: 'center', verticalAlign: 'middle' } }
  ].concat([[1752, 712], [1745, 1249], [1752, 1811]].map((p, i) => ({
    type: 'text', x: p[0], y: p[1], z: 100,
    style: { text: '{a|Bacteroides (}{i|r}{a| =' + panelR[i] + ')}', align: 'center', verticalAlign: 'middle',
      rich: { a: { font: TITLE_FONT, fill: '#000' }, i: { font: 'italic ' + TITLE_FONT, fill: '#000' } } }
  }))).concat([
    // preprint notice overlay
    { type: 'text', x: 684, y: 392, z: 120, style: { text: '{k|bioRxiv preprint doi: }{b|https://doi.org/10.1101/2022.06.04.494807}{k|; this version posted June 4, 2022. The copyright holder for this preprint (which}',
      align: 'center', verticalAlign: 'middle', rich: { k: { font: '21.4px ' + ARIAL, fill: '#000' }, b: { font: '21.4px ' + ARIAL, fill: '#0000FF' } } } },
    { type: 'text', x: 684, y: 414, z: 120, style: { text: 'was not certified by peer review) is the author/funder, who has granted bioRxiv a license to display the preprint in perpetuity. It is made',
      align: 'center', verticalAlign: 'middle', font: '21.4px ' + ARIAL, fill: '#000' } },
    { type: 'text', x: 684, y: 436, z: 120, style: { text: '{k|available under a}{b|CC-BY-NC-ND 4.0 International license}{k|.}',
      align: 'center', verticalAlign: 'middle', rich: { k: { font: '21.4px ' + ARIAL, fill: '#000' }, b: { font: '21.4px ' + ARIAL, fill: '#0000FF' } } } }
  ])
};

const chart = echarts.init(document.getElementById('chart'), null, { renderer: 'canvas', width: 2040, height: 1845 });
chart.setOption(option);
</script>
</body></html>
